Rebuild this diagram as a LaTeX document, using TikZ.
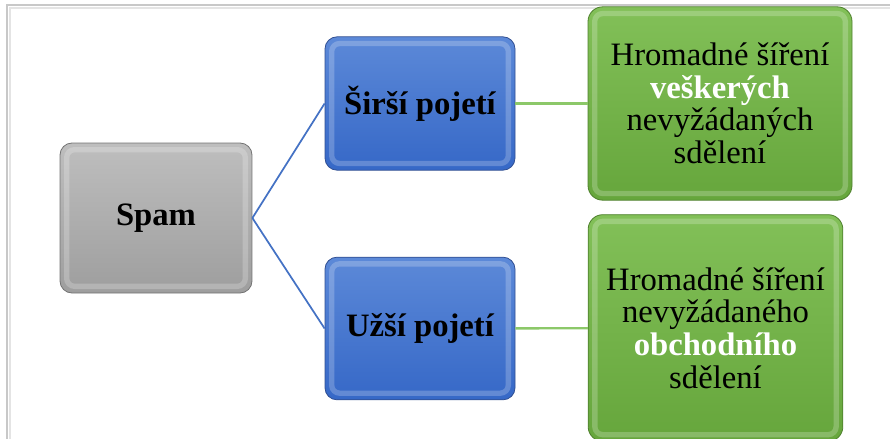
\documentclass[tikz,border=0pt]{standalone}
\usepackage{fontspec}
\setmainfont{Liberation Serif}
\usepackage{tikz}
\usepackage{xcolor}

\definecolor{framegray}{RGB}{200,200,200}
\definecolor{framelight}{RGB}{228,228,228}
\definecolor{spamtop}{RGB}{190,190,190}
\definecolor{spambot}{RGB}{158,158,158}
\definecolor{spamedge}{RGB}{115,115,115}
\definecolor{bluetop}{RGB}{92,137,216}
\definecolor{bluebot}{RGB}{54,104,199}
\definecolor{blueedge}{RGB}{48,78,145}
\definecolor{greentop}{RGB}{130,192,88}
\definecolor{greenbot}{RGB}{102,166,60}
\definecolor{greenedge}{RGB}{78,128,45}
\definecolor{blueline}{RGB}{68,114,196}
\definecolor{greenline}{RGB}{140,200,105}

\begin{document}
\begin{tikzpicture}[x=0.75pt, y=-0.75pt,
    box/.style = {rectangle, rounded corners=9pt, draw, line width=0.6pt,
      align=center, inner sep=2pt,
      path picture={\draw[white, opacity=0.22, line width=4pt, rounded corners=6pt]
        ([shift={(5pt,5pt)}]path picture bounding box.south west) rectangle
        ([shift={(-5pt,-5pt)}]path picture bounding box.north east);}},
    rootbox/.style = {box, draw=spamedge, top color=spamtop, bottom color=spambot,
      font=\fontsize{24.5}{24.4}\selectfont\bfseries},
    viewbox/.style = {box, draw=blueedge, top color=bluetop, bottom color=bluebot,
      minimum width=142.5pt, font=\fontsize{24.5}{24.4}\selectfont\bfseries},
    defbox/.style = {box, draw=greenedge, top color=greentop, bottom color=greenbot,
      rounded corners=11pt, font=\fontsize{24.5}{24.4}\selectfont}
    ]
    \useasboundingbox (0,0) rectangle (890,439);

    % page frame
    \draw[framegray, line width=0.8pt] (7,439) -- (7,5) -- (890,5);
    \draw[framelight, line width=0.8pt] (10,439) -- (10,8) -- (890,8);

    \node[rootbox, minimum width=144pt, minimum height=112.5pt] (spam) at (156,218) {Spam};

    \node[viewbox, minimum height=100pt] (wide) at (420,103.5) {Širší pojetí};
    \node[viewbox, minimum height=107pt] (narrow) at (420,328.5) {Užší pojetí};

    \node[defbox, minimum width=198pt, minimum height=145pt] (widedef) at (720,103.5)
      {Hromadné šíření\\\textcolor{white}{\bfseries veškerých}\\nevyžádaných\\sdělení};
    \node[defbox, minimum width=191pt, minimum height=170pt] (narrowdef) at (715.5,328)
      {Hromadné šíření\\nevyžádaného\\\textcolor{white}{\bfseries obchodního}\\sdělení};

    \draw[blueline, line width=1.3pt] (spam.east) -- (wide.west);
    \draw[blueline, line width=1.3pt] (spam.east) -- (narrow.west);
    \draw[greenline, line width=1.8pt] (wide) -- (widedef);
    \draw[greenline, line width=1.8pt] (narrow) -- (narrowdef);
\end{tikzpicture}
\end{document}
